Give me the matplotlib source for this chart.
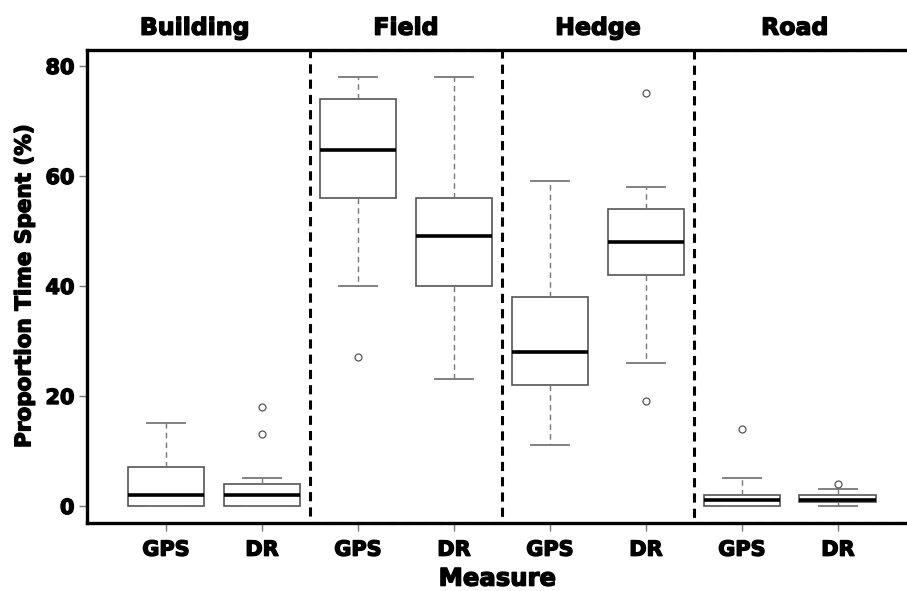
import matplotlib
matplotlib.use("Agg")
import matplotlib.pyplot as plt
from matplotlib.patches import Rectangle
import matplotlib.patheffects as pe

# ---- data ----
groups = ["Building", "Field", "Hedge", "Road"]
measures = ["GPS", "DR"]
tick_labels = ["GPS", "DR", "GPS", "DR", "GPS", "DR", "GPS", "DR"]
whisker_low = [0, 0, 40, 23, 11, 26, 0, 0]
q1 = [0, 0, 56, 40, 22, 42, 0, 0.75]
median = [2, 2, 64.8, 49, 28, 48, 1, 1]
q3 = [7, 4, 74, 56, 38, 54, 2, 2]
whisker_high = [15, 5, 78, 78, 59, 58, 5, 3]
outliers = [[], [13, 18], [27], [], [], [75, 19], [14], [4]]
yticks = [0, 20, 40, 60, 80]

stats = []
for i in range(len(tick_labels)):
    stats.append(dict(whislo=whisker_low[i], q1=q1[i], med=median[i], q3=q3[i],
                      whishi=whisker_high[i], fliers=outliers[i], label=tick_labels[i]))

plt.rcParams['font.family'] = ['DejaVu Sans']
heavy = [pe.withStroke(linewidth=1.0, foreground="black")]

fig = plt.figure(figsize=(9.07, 5.91), dpi=100)
ax = fig.add_axes([0.0959, 0.115, 0.9041, 0.8004])

positions = list(range(1, len(tick_labels) + 1))
ax.bxp(stats, positions=positions, widths=0.8, patch_artist=True,
       boxprops=dict(facecolor="white", edgecolor="#555555", linewidth=1.2),
       medianprops=dict(color="black", linewidth=2.6),
       whiskerprops=dict(color="#777777", linewidth=1.0, linestyle=(0, (4, 3))),
       capprops=dict(color="#777777", linewidth=1.3),
       capwidths=0.4,
       flierprops=dict(marker="o", markersize=5, markerfacecolor="white",
                       markeredgecolor="#555555", markeredgewidth=0.9))

ax.set_xlim(0.177, 8.72)
ax.set_ylim(-3.1, 82.9)

for x0, x1 in [(2.5, 4.5), (6.5, 9.0)]:
    ax.add_patch(Rectangle((x0, -3.1), x1 - x0, 86.0, fill=False, edgecolor="black",
                           linewidth=2.2, linestyle=(0, (3, 2)), zorder=0.5,
                           clip_on=False if x1 < 8.72 else True))

for s in ["left", "bottom", "top"]:
    ax.spines[s].set_linewidth(2.4)
    ax.spines[s].set_color("black")
ax.spines["right"].set_visible(False)

ax.set_yticks(yticks)
ax.set_yticklabels([str(v) for v in yticks], fontsize=15, fontweight="bold")
ax.set_xticks(positions)
ax.set_xticklabels(tick_labels, fontsize=15, fontweight="bold")
ax.tick_params(axis="both", colors="#777777", length=6, width=1.0, labelcolor="black")
ax.tick_params(axis="y", pad=3)
ax.tick_params(axis="x", pad=6)
for lab in ax.get_xticklabels() + ax.get_yticklabels():
    lab.set_path_effects(heavy)

title_x = [1.30, 3.5, 5.5, 7.55]
for g, tx in zip(groups, title_x):
    ax.text(tx, 1.047, g, transform=ax.get_xaxis_transform(), ha="center", va="center",
            fontsize=17, fontweight="bold", path_effects=heavy)

ax.set_xlabel("Measure", fontsize=17.5, fontweight="bold", labelpad=5, path_effects=heavy)
ax.set_ylabel("Proportion Time Spent (%)", fontsize=15.5, fontweight="bold", labelpad=8,
              path_effects=heavy)

fig.savefig("out.png", dpi=100)
